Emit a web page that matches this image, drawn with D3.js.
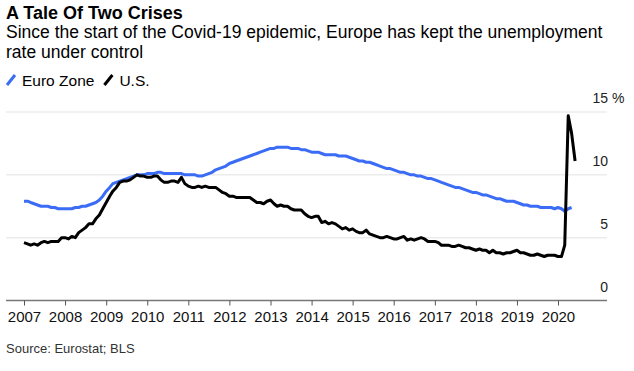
<!DOCTYPE html>
<html>
<head>
<meta charset="utf-8">
<script src="https://cdn.jsdelivr.net/npm/d3@7"></script>
<style>
  body { margin: 0; background: #fff; }
  svg { display: block; font-family: "Liberation Sans", Arial, sans-serif; }
</style>
</head>
<body>
<div id="chart"></div>
<script>
// Monthly unemployment rate, %, starting January 2007
const startYear = 2007;
const yearTicks = [2007, 2008, 2009, 2010, 2011, 2012, 2013, 2014, 2015, 2016, 2017, 2018, 2019, 2020];
const rateTicks = [0, 5, 10, 15];

// Euro Zone, Jan 2007 - May 2020
const euroZone = [
  7.9, 7.9, 7.8, 7.7, 7.6, 7.5, 7.5, 7.5, 7.4, 7.4, 7.3, 7.3,
  7.3, 7.3, 7.3, 7.4, 7.4, 7.5, 7.5, 7.6, 7.7, 7.8, 8.0, 8.3,
  8.7, 9.0, 9.3, 9.4, 9.5, 9.6, 9.7, 9.8, 9.9, 10.0, 10.0, 10.0,
  10.1, 10.1, 10.1, 10.2, 10.2, 10.1, 10.1, 10.1, 10.1, 10.1, 10.1, 10.0,
  10.0, 10.0, 10.0, 9.9, 9.9, 10.0, 10.1, 10.2, 10.4, 10.5, 10.6, 10.7,
  10.9, 11.0, 11.1, 11.2, 11.3, 11.4, 11.5, 11.6, 11.7, 11.8, 11.9, 12.0,
  12.1, 12.1, 12.2, 12.2, 12.2, 12.2, 12.1, 12.1, 12.1, 12.0, 12.0, 11.9,
  11.8, 11.8, 11.8, 11.7, 11.6, 11.6, 11.6, 11.6, 11.5, 11.5, 11.5, 11.4,
  11.3, 11.2, 11.1, 11.1, 11.0, 11.0, 10.9, 10.8, 10.7, 10.6, 10.5, 10.5,
  10.4, 10.3, 10.2, 10.2, 10.1, 10.0, 10.0, 9.9, 9.9, 9.8, 9.7, 9.7,
  9.6, 9.5, 9.4, 9.3, 9.2, 9.1, 9.0, 9.0, 8.9, 8.8, 8.7, 8.6,
  8.6, 8.5, 8.4, 8.4, 8.3, 8.2, 8.1, 8.1, 8.0, 7.9, 7.9, 7.9,
  7.8, 7.7, 7.6, 7.6, 7.5, 7.5, 7.5, 7.4, 7.4, 7.4, 7.4, 7.3,
  7.4, 7.3, 7.1, 7.3, 7.4
];

// U.S., Jan 2007 - Jun 2020
const unitedStates = [
  4.6, 4.5, 4.4, 4.5, 4.4, 4.6, 4.7, 4.6, 4.7, 4.7, 4.7, 5.0,
  5.0, 4.9, 5.1, 5.0, 5.4, 5.6, 5.8, 6.1, 6.1, 6.5, 6.8, 7.3,
  7.8, 8.3, 8.7, 9.0, 9.4, 9.5, 9.5, 9.6, 9.8, 10.0, 9.9, 9.9,
  9.8, 9.8, 9.9, 9.9, 9.6, 9.4, 9.4, 9.5, 9.5, 9.4, 9.8, 9.3,
  9.1, 9.0, 9.0, 9.1, 9.0, 9.1, 9.0, 9.0, 9.0, 8.8, 8.6, 8.5,
  8.3, 8.3, 8.2, 8.2, 8.2, 8.2, 8.2, 8.0, 7.8, 7.8, 7.7, 7.9,
  8.0, 7.7, 7.5, 7.6, 7.5, 7.5, 7.3, 7.2, 7.2, 7.2, 6.9, 6.7,
  6.6, 6.7, 6.7, 6.2, 6.3, 6.1, 6.2, 6.1, 5.9, 5.7, 5.8, 5.6,
  5.7, 5.5, 5.4, 5.4, 5.6, 5.3, 5.2, 5.1, 5.0, 5.0, 5.1, 5.0,
  4.9, 4.9, 5.0, 5.1, 4.8, 4.9, 4.8, 4.9, 5.0, 4.9, 4.7, 4.7,
  4.7, 4.6, 4.4, 4.4, 4.4, 4.3, 4.3, 4.4, 4.3, 4.2, 4.2, 4.1,
  4.0, 4.1, 4.0, 4.0, 3.8, 4.0, 3.8, 3.8, 3.7, 3.8, 3.8, 3.9,
  4.0, 3.8, 3.8, 3.7, 3.6, 3.6, 3.7, 3.6, 3.5, 3.6, 3.6, 3.6,
  3.5, 3.5, 4.4, 14.7, 13.3, 11.1
];

const seriesNames = ['Euro Zone', 'U.S.'];
const seriesColors = ['#3b6cf6', '#000000'];

const width = 634, height = 371;
const plot = { left: 6, right: 607, top: 112, bottom: 300.5 };

const toPoints = vals => vals.map((v, i) => ({ date: new Date(startYear, i, 1), value: v }));
const series = [euroZone, unitedStates].map((vals, i) => ({
  name: seriesNames[i], color: seriesColors[i], points: toPoints(vals)
}));

const svg = d3.select('#chart').append('svg')
  .attr('width', width)
  .attr('height', height);

// Scales
const x = d3.scaleTime()
  .domain([new Date(2007, 0, 1), new Date(2020, 0, 1)])
  .range([24, 558]);

const y = d3.scaleLinear()
  .domain([0, 15])
  .range([plot.bottom, plot.top]);

// Title + subtitle
svg.append('text')
  .attr('x', 6).attr('y', 19)
  .style('font-size', '18px').style('font-weight', 'bold').style('fill', '#000')
  .text('A Tale Of Two Crises');

const sub = svg.append('text')
  .attr('x', 6).attr('y', 38)
  .style('font-size', '17.5px').style('fill', '#000');
sub.append('tspan').attr('x', 6).text('Since the start of the Covid-19 epidemic, Europe has kept the unemployment');
sub.append('tspan').attr('x', 6).attr('dy', 20).text('rate under control');

// Legend
const legend = svg.append('g').attr('transform', 'translate(0, 86)');
let lx = 7;
series.forEach(s => {
  legend.append('line')
    .attr('x1', lx).attr('y1', -1).attr('x2', lx + 8).attr('y2', -11)
    .attr('stroke', s.color).attr('stroke-width', 3);
  const t = legend.append('text')
    .attr('x', lx + 15).attr('y', 0)
    .style('font-size', '15.5px').style('fill', '#000')
    .text(s.name);
  lx += 15 + t.node().getComputedTextLength() + 10;
});

// Gridlines
svg.append('g')
  .selectAll('line')
  .data(rateTicks.filter(d => d > 0))
  .enter()
  .append('line')
  .attr('x1', plot.left).attr('x2', plot.right)
  .attr('y1', d => y(d)).attr('y2', d => y(d))
  .attr('stroke', '#ececec').attr('stroke-width', 1.5);

// Y labels (right side, above gridlines)
svg.append('g')
  .selectAll('text')
  .data(rateTicks)
  .enter()
  .append('text')
  .attr('x', 608)
  .attr('y', d => y(d) - 9)
  .attr('text-anchor', 'end')
  .style('font-size', '14px').style('fill', '#222')
  .text(d => d);

svg.append('text')
  .attr('x', 612).attr('y', y(15) - 9)
  .style('font-size', '14px').style('fill', '#222')
  .text('%');

// X axis
const xAxis = svg.append('g')
  .attr('transform', `translate(0, ${plot.bottom})`)
  .call(d3.axisBottom(x)
    .tickValues(yearTicks.map(yr => new Date(yr, 0, 1)))
    .tickFormat(d3.timeFormat('%Y'))
    .tickSize(5)
    .tickPadding(6));

xAxis.select('.domain')
  .attr('d', `M${plot.left},0H${plot.right}`)
  .attr('stroke', '#777').attr('stroke-width', 1.5);
xAxis.selectAll('.tick line').attr('stroke', '#555');
xAxis.selectAll('.tick text')
  .style('font-size', '15px')
  .style('font-family', '"Liberation Sans", Arial, sans-serif')
  .style('fill', '#111');

// Lines
const line = d3.line()
  .x(d => x(d.date))
  .y(d => y(d.value));

svg.append('g')
  .selectAll('path')
  .data(series)
  .enter()
  .append('path')
  .attr('d', d => line(d.points))
  .attr('fill', 'none')
  .attr('stroke', d => d.color)
  .attr('stroke-width', 3)
  .attr('stroke-linejoin', 'round');

// Source
svg.append('text')
  .attr('x', 6).attr('y', 353)
  .style('font-size', '13px').style('fill', '#333')
  .text('Source: Eurostat; BLS');
</script>
</body>
</html>
